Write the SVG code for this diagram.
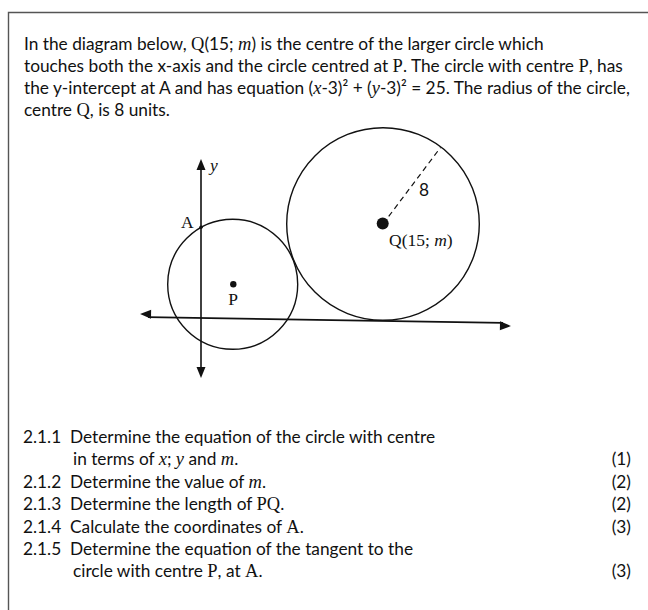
<svg xmlns="http://www.w3.org/2000/svg" width="648" height="610" viewBox="0 0 648 610">
<style>
.t{font-family:Lato,"Liberation Sans",sans-serif;font-size:17.3px;fill:#111}
.s{font-family:"Liberation Serif",serif;font-size:18.5px}
.i{font-family:"Liberation Serif",serif;font-style:italic;font-size:18.5px}
.ln{fill:none;stroke:#111;stroke-width:1.4}
.ax{fill:none;stroke:#111;stroke-width:1.6}
.ah{fill:#111}
.lbl{font-family:"Liberation Serif",serif;font-size:17.5px;fill:#111}
</style>
<rect width="648" height="610" fill="#fff"/>
<path d="M8.5 620 V12.5 H660" fill="none" stroke="#555" stroke-width="1.4"/>
<g id="intro" class="t">
<text x="24" y="50">In the diagram below, <tspan class="s">Q</tspan>(15; <tspan class="i">m</tspan>) is the centre of the larger circle which</text>
<text x="24" y="72">touches both the x-axis and the circle centred at <tspan class="s">P</tspan>. The circle with centre <tspan class="s">P</tspan>, has</text>
<text x="24" y="94">the y-intercept at A and has equation (<tspan class="i">x</tspan>-3)² + (<tspan class="i">y</tspan>-3)² = 25. The radius of the circle,</text>
<text x="24" y="116">centre <tspan class="s">Q</tspan>, is 8 units.</text>
</g>
<g id="axes">
<line class="ax" x1="201" y1="370" x2="201" y2="167"/>
<polygon class="ah" points="201,159 205.5,170 196.5,170"/>
<polygon class="ah" points="201,378 205.5,367 196.5,367"/>
<line class="ax" x1="148" y1="317.1" x2="503" y2="322.9"/>
<g transform="rotate(0.93 325 320)">
<polygon class="ah" points="140,317 151,312.5 151,321.5"/>
</g>
<g transform="rotate(0.93 325 320)">
<polygon class="ah" points="511,323 500,318.5 500,327.5"/>
</g>
<text class="lbl" x="210" y="171" font-style="italic">y</text>
</g>
<g id="circleP">
<circle class="ln" cx="232.7" cy="284.3" r="65"/>
<circle cx="233.3" cy="284.3" r="3.2" fill="#111"/>
<text class="lbl" x="233" y="305" text-anchor="middle">P</text>
</g>
<g id="pointA">
<circle cx="201" cy="227.3" r="1.8" fill="#111"/>
<text class="lbl" x="181" y="227.5">A</text>
</g>
<g id="circleQ">
<circle class="ln" cx="383" cy="224" r="96.3"/>
<line x1="383" y1="224" x2="440.5" y2="147.5" stroke="#111" stroke-width="1.2" stroke-dasharray="5.5,4"/>
<circle cx="382.7" cy="223.5" r="6" fill="#111"/>
<text class="t" x="419" y="196">8</text>
<text class="lbl" x="389" y="246">Q(15; <tspan font-style="italic">m</tspan>)</text>
</g>
<g id="questions" class="t">
<text x="23" y="443">2.1.1</text>
<text x="70" y="443">Determine the equation of the circle with centre</text>
<text x="73" y="465">in terms of <tspan class="i">x</tspan>; <tspan class="i">y</tspan> and <tspan class="i">m</tspan>.</text>
<text x="631" y="465" text-anchor="end">(1)</text>
<text x="23" y="488">2.1.2</text>
<text x="70" y="488">Determine the value of <tspan class="i">m</tspan>.</text>
<text x="631" y="488" text-anchor="end">(2)</text>
<text x="23" y="510">2.1.3</text>
<text x="70" y="510">Determine the length of <tspan class="s">PQ</tspan>.</text>
<text x="631" y="510" text-anchor="end">(2)</text>
<text x="23" y="533">2.1.4</text>
<text x="70" y="533">Calculate the coordinates of <tspan class="s">A</tspan>.</text>
<text x="631" y="533" text-anchor="end">(3)</text>
<text x="23" y="555">2.1.5</text>
<text x="70" y="555">Determine the equation of the tangent to the</text>
<text x="73" y="577">circle with centre <tspan class="s">P</tspan>, at <tspan class="s">A</tspan>.</text>
<text x="631" y="577" text-anchor="end">(3)</text>
</g>
</svg>
